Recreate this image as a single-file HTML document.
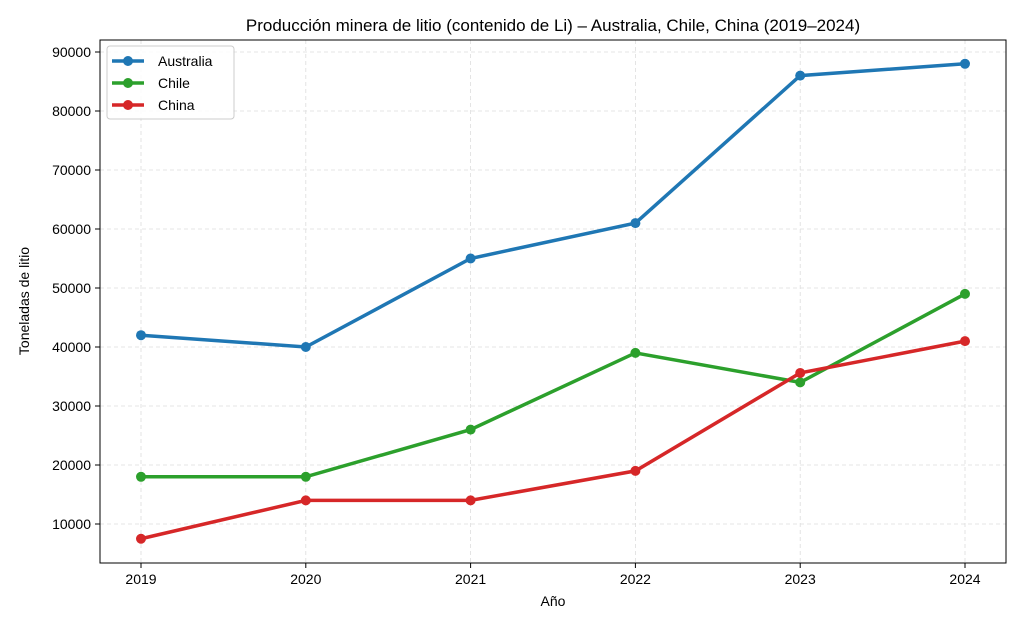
<!DOCTYPE html>
<html><head><meta charset="utf-8"><style>body{margin:0;background:#fff}</style></head><body>
<svg width="1024" height="626" xmlns="http://www.w3.org/2000/svg" font-family="Liberation Sans, DejaVu Sans, sans-serif">
<rect width="1024" height="626" fill="#fff"/>
<g stroke="#ddd" stroke-dasharray="4,3" stroke-width="0.8">
<line x1="141" y1="40" x2="141" y2="563"/><line x1="305.8" y1="40" x2="305.8" y2="563"/><line x1="470.6" y1="40" x2="470.6" y2="563"/><line x1="635.4" y1="40" x2="635.4" y2="563"/><line x1="800.2" y1="40" x2="800.2" y2="563"/><line x1="965" y1="40" x2="965" y2="563"/>
<line x1="100" y1="524" x2="1006" y2="524"/><line x1="100" y1="465" x2="1006" y2="465"/><line x1="100" y1="406" x2="1006" y2="406"/><line x1="100" y1="347" x2="1006" y2="347"/><line x1="100" y1="288" x2="1006" y2="288"/><line x1="100" y1="229" x2="1006" y2="229"/><line x1="100" y1="170" x2="1006" y2="170"/><line x1="100" y1="111" x2="1006" y2="111"/><line x1="100" y1="52" x2="1006" y2="52"/>
</g>
<rect x="100" y="40" width="906" height="523" fill="none" stroke="#000" stroke-width="1"/>
<g stroke="#000"><line x1="141" y1="563" x2="141" y2="568"/><line x1="305.8" y1="563" x2="305.8" y2="568"/><line x1="470.6" y1="563" x2="470.6" y2="568"/><line x1="635.4" y1="563" x2="635.4" y2="568"/><line x1="800.2" y1="563" x2="800.2" y2="568"/><line x1="965" y1="563" x2="965" y2="568"/>
<line x1="95" y1="524" x2="100" y2="524"/><line x1="95" y1="465" x2="100" y2="465"/><line x1="95" y1="406" x2="100" y2="406"/><line x1="95" y1="347" x2="100" y2="347"/><line x1="95" y1="288" x2="100" y2="288"/><line x1="95" y1="229" x2="100" y2="229"/><line x1="95" y1="170" x2="100" y2="170"/><line x1="95" y1="111" x2="100" y2="111"/><line x1="95" y1="52" x2="100" y2="52"/></g>
<g font-size="14" text-anchor="middle" fill="#000"><text x="141" y="584">2019</text><text x="305.8" y="584">2020</text><text x="470.6" y="584">2021</text><text x="635.4" y="584">2022</text><text x="800.2" y="584">2023</text><text x="965" y="584">2024</text></g>
<g font-size="14" text-anchor="end" fill="#000"><text x="91" y="529">10000</text><text x="91" y="470">20000</text><text x="91" y="411">30000</text><text x="91" y="352">40000</text><text x="91" y="293">50000</text><text x="91" y="234">60000</text><text x="91" y="175">70000</text><text x="91" y="116">80000</text><text x="91" y="57">90000</text></g>
<text x="553" y="606" font-size="14" text-anchor="middle">Año</text>
<text transform="translate(29,301) rotate(-90)" font-size="14" text-anchor="middle">Toneladas de litio</text>
<text x="553" y="31" font-size="17" text-anchor="middle">Producción minera de litio (contenido de Li) – Australia, Chile, China (2019–2024)</text>
<g fill="none" stroke-width="3.5">
<polyline stroke="#1f77b4" points="141,335.2 305.8,347 470.6,258.5 635.4,223.1 800.2,75.6 965,63.8"/>
<polyline stroke="#2ca02c" points="141,476.8 305.8,476.8 470.6,429.6 635.4,352.9 800.2,382.4 965,293.9"/>
<polyline stroke="#d62728" points="141,538.75 305.8,500.4 470.6,500.4 635.4,470.9 800.2,372.96 965,341.1"/>
</g>
<g fill="#1f77b4"><circle cx="141" cy="335.2" r="5"/><circle cx="305.8" cy="347" r="5"/><circle cx="470.6" cy="258.5" r="5"/><circle cx="635.4" cy="223.1" r="5"/><circle cx="800.2" cy="75.6" r="5"/><circle cx="965" cy="63.8" r="5"/></g>
<g fill="#2ca02c"><circle cx="141" cy="476.8" r="5"/><circle cx="305.8" cy="476.8" r="5"/><circle cx="470.6" cy="429.6" r="5"/><circle cx="635.4" cy="352.9" r="5"/><circle cx="800.2" cy="382.4" r="5"/><circle cx="965" cy="293.9" r="5"/></g>
<g fill="#d62728"><circle cx="141" cy="538.75" r="5"/><circle cx="305.8" cy="500.4" r="5"/><circle cx="470.6" cy="500.4" r="5"/><circle cx="635.4" cy="470.9" r="5"/><circle cx="800.2" cy="372.96" r="5"/><circle cx="965" cy="341.1" r="5"/></g>
<rect x="107" y="46" width="127" height="73" rx="3" fill="#fff" fill-opacity="0.85" stroke="#ccc"/>
<g stroke-width="3.5"><line x1="112" y1="61" x2="144" y2="61" stroke="#1f77b4"/><line x1="112" y1="83" x2="144" y2="83" stroke="#2ca02c"/><line x1="112" y1="105" x2="144" y2="105" stroke="#d62728"/></g>
<circle cx="128" cy="61" r="5" fill="#1f77b4"/><circle cx="128" cy="83" r="5" fill="#2ca02c"/><circle cx="128" cy="105" r="5" fill="#d62728"/>
<g font-size="14"><text x="158" y="66">Australia</text><text x="158" y="88">Chile</text><text x="158" y="110">China</text></g>
</svg>
</body></html>
